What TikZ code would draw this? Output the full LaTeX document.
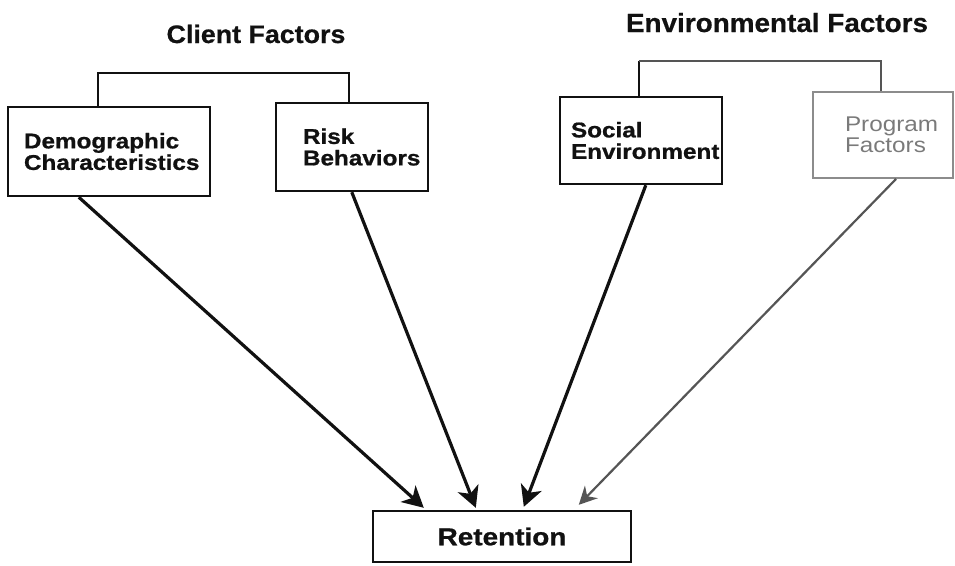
\documentclass[tikz,border=0pt]{standalone}
\usepackage{fontspec}
\usetikzlibrary{arrows.meta,calc}
\newfontfamily\boxfont[FakeStretch=1.14, BoldFeatures={FakeBold=0.9}]{Liberation Sans}
\newfontfamily\headfont[FakeStretch=1.06, BoldFeatures={FakeBold=0.6}]{Liberation Sans}
\definecolor{ink}{HTML}{111111}
\definecolor{faded}{HTML}{7A7A7A}
\definecolor{fadedline}{HTML}{8C8C8C}
\definecolor{fadedarrow}{HTML}{555555}
\hfuzz=200pt
\begin{document}
\begin{tikzpicture}[x=1pt,y=-1pt,
  heading/.style={font=\headfont\bfseries\fontsize{25.3}{28}\selectfont, text=ink, inner sep=0pt, anchor=base},
  factor/.style={draw=ink, line width=2.4pt, align=left, inner ysep=0pt,
    font=\boxfont\bfseries\fontsize{21.3}{21.5}\selectfont, text=ink},
  lightfactor/.style={factor, draw=fadedline, line width=1.8pt, text=faded,
    font=\boxfont\fontsize{21.3}{21.5}\selectfont},
  bracket/.style={draw=ink, line width=2.2pt},
  influence/.style={draw=ink, line width=3.2pt,
    -{Stealth[length=21pt,width=22pt,inset=6pt]}},
  lightinfluence/.style={influence, draw=fadedarrow, line width=2.2pt,
    -{Stealth[length=18pt,width=18pt,inset=6pt]}}]
\useasboundingbox (0,0) rectangle (955,565);

% group headings
\node[heading] (client) at (256,43) {Client Factors};
\node[heading, font=\headfont\bfseries\fontsize{26.3}{28}\selectfont] (environ) at (777,32) {Environmental Factors};

% factor boxes
\node[factor, text width=170pt, inner xsep=16pt, minimum height=89pt] (dem) at (109,151.5)
  {Demographic\\Characteristics};
\node[factor, text width=98pt, inner xsep=27pt, minimum height=88pt] (risk) at (352,147)
  {Risk\\Behaviors};
\node[factor, text width=140pt, inner xsep=11pt, minimum height=87pt] (soc) at (641,140.5)
  {Social\\Environment};
\node[lightfactor, text width=76pt, inner xsep=32pt, minimum height=86pt] (prog) at (883,135)
  {Program\\Factors};

% outcome box
\node[factor, align=center, inner xsep=0pt, minimum width=258pt, minimum height=51pt,
  font=\boxfont\bfseries\fontsize{24.5}{26}\selectfont] (ret) at (502,536.5) {Retention};

% brackets grouping the factors
\draw[bracket] ($(dem.north west)+(91,0)$) |- ($(risk.north west)+(74,-29)$)
  -- ($(risk.north west)+(74,0)$);
\draw[bracket] ($(soc.north west)+(80,0)$) -- ($(soc.north west)+(80,-35)$);
\draw[bracket, draw=fadedarrow, line width=1.8pt] ($(soc.north west)+(80,-35)$)
  -| ($(prog.north west)+(69,0)$);

% influences on retention
\draw[influence] ($(dem.south west)+(72,0)$) -- ($(ret.north west)+(52,-2)$);
\draw[influence] ($(risk.south west)+(77,0)$) -- ($(ret.north west)+(104,-2)$);
\draw[influence] ($(soc.south west)+(87,0)$) -- ($(ret.north west)+(152,-3)$);
\draw[lightinfluence] ($(prog.south west)+(84,0)$) -- ($(ret.north west)+(207,-5)$);
\end{tikzpicture}
\end{document}
